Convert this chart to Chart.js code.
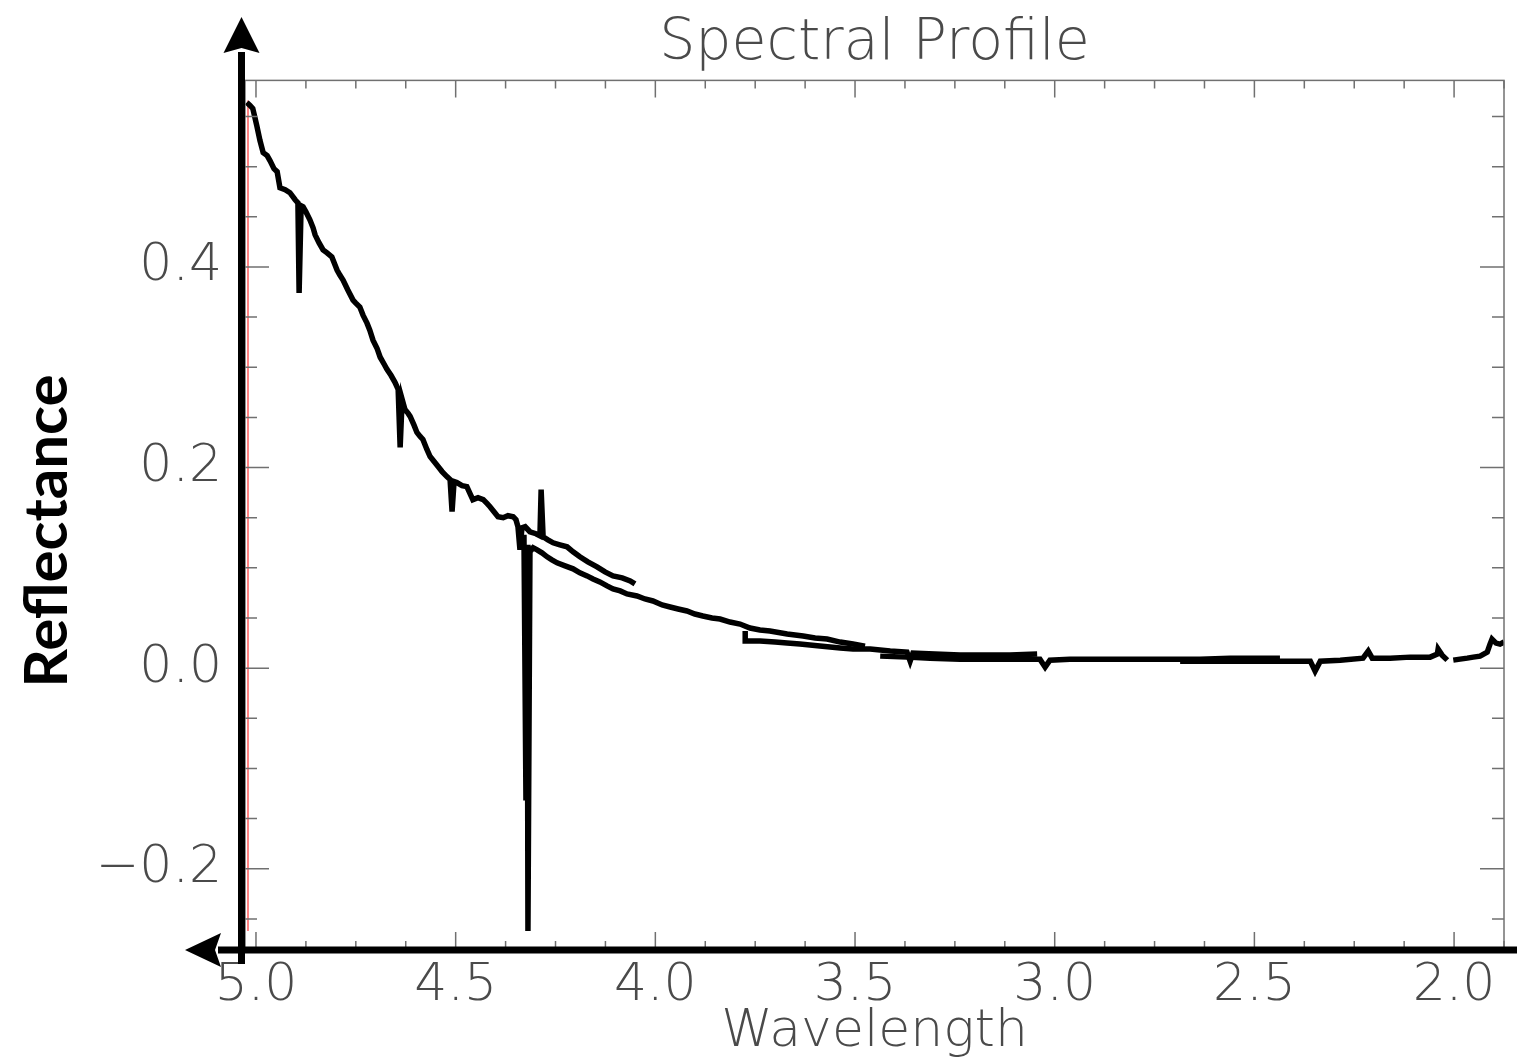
<!DOCTYPE html>
<html>
<head>
<meta charset="utf-8">
<title>Spectral Profile</title>
<script src="https://cdn.jsdelivr.net/npm/chart.js@4.4.1/dist/chart.umd.min.js"></script>
<style>
    html, body { margin: 0; padding: 0; background: #ffffff; }
    #wrap { width: 1517px; height: 1064px; }
</style>
</head>
<body>
<div id="wrap"><canvas id="spectrumChart" width="1517" height="1064"></canvas></div>
<script>
// Spectrum segments (wavelength, reflectance)
const seg1Wave = [5.023, 5.015, 5.008, 4.998, 4.990, 4.982, 4.972, 4.965, 4.955, 4.947, 4.940, 4.927, 4.915, 4.902, 4.895, 4.892, 4.887, 4.882, 4.875, 4.865, 4.857, 4.852, 4.842, 4.832, 4.822, 4.810, 4.802, 4.797, 4.790, 4.782, 4.770, 4.757, 4.750, 4.740, 4.732, 4.722, 4.715, 4.707, 4.697, 4.689, 4.679, 4.672, 4.662, 4.652, 4.644, 4.639, 4.634, 4.627, 4.619, 4.614, 4.604, 4.597, 4.589, 4.582, 4.572, 4.564, 4.554, 4.544, 4.534, 4.522, 4.514, 4.509, 4.504, 4.497, 4.484, 4.472, 4.464, 4.457, 4.444, 4.431, 4.421, 4.414, 4.404, 4.394, 4.381, 4.369, 4.356, 4.349, 4.344, 4.339, 4.334, 4.326, 4.314, 4.299, 4.289, 4.286, 4.281, 4.269, 4.256, 4.239, 4.221, 4.206, 4.189, 4.169, 4.146, 4.126, 4.106, 4.083, 4.063, 4.051];
const seg1Refl = [0.564, 0.561, 0.558, 0.541, 0.526, 0.514, 0.511, 0.506, 0.498, 0.495, 0.479, 0.477, 0.474, 0.467, 0.464, 0.374, 0.461, 0.460, 0.455, 0.447, 0.439, 0.432, 0.424, 0.417, 0.414, 0.410, 0.402, 0.397, 0.392, 0.387, 0.377, 0.367, 0.364, 0.360, 0.352, 0.344, 0.337, 0.327, 0.319, 0.310, 0.303, 0.298, 0.292, 0.285, 0.278, 0.220, 0.268, 0.258, 0.254, 0.251, 0.242, 0.235, 0.231, 0.228, 0.218, 0.211, 0.206, 0.201, 0.196, 0.191, 0.188, 0.156, 0.186, 0.185, 0.182, 0.181, 0.174, 0.168, 0.170, 0.168, 0.164, 0.161, 0.156, 0.151, 0.150, 0.152, 0.151, 0.148, 0.141, 0.118, 0.140, 0.141, 0.136, 0.134, 0.132, 0.178, 0.131, 0.128, 0.125, 0.123, 0.121, 0.116, 0.111, 0.106, 0.101, 0.096, 0.092, 0.090, 0.087, 0.084];

const seg2Wave = [4.329, 4.324, 4.321, 4.319, 4.314, 4.306, 4.296, 4.284, 4.271, 4.259, 4.246, 4.226, 4.206, 4.189, 4.171, 4.156, 4.139, 4.121, 4.106, 4.088, 4.071, 4.046, 4.026, 4.006, 3.983, 3.963, 3.943, 3.921, 3.901, 3.881, 3.858, 3.838, 3.813, 3.788, 3.763, 3.738, 3.713, 3.670, 3.630, 3.600, 3.570, 3.537, 3.505, 3.475];
const seg2Refl = [0.133, -0.132, 0.123, -0.262, 0.116, 0.120, 0.118, 0.115, 0.111, 0.108, 0.105, 0.102, 0.099, 0.095, 0.092, 0.089, 0.086, 0.082, 0.079, 0.077, 0.074, 0.072, 0.069, 0.067, 0.063, 0.061, 0.059, 0.057, 0.054, 0.052, 0.050, 0.049, 0.046, 0.044, 0.040, 0.038, 0.037, 0.034, 0.032, 0.030, 0.029, 0.026, 0.024, 0.022];

const seg3Wave = [3.775, 3.775, 3.738, 3.700, 3.670, 3.638, 3.588, 3.537, 3.505, 3.462, 3.412, 3.370, 3.362, 3.355, 3.300, 3.237, 3.174, 3.112, 3.044];
const seg3Refl = [0.037, 0.027, 0.027, 0.026, 0.025, 0.024, 0.022, 0.020, 0.019, 0.019, 0.017, 0.016, 0.007, 0.015, 0.014, 0.013, 0.013, 0.013, 0.014];

const seg4Wave = [3.437, 3.370, 3.312, 3.237, 3.174, 3.112, 3.037, 3.024, 3.012, 2.962, 2.904, 2.836, 2.761, 2.704, 2.636, 2.561, 2.498, 2.436];
const seg4Refl = [0.012, 0.011, 0.010, 0.009, 0.009, 0.009, 0.009, 0.001, 0.008, 0.009, 0.009, 0.009, 0.009, 0.009, 0.009, 0.010, 0.010, 0.010];

const seg5Wave = [2.686, 2.611, 2.536, 2.461, 2.411, 2.360, 2.348, 2.335, 2.285, 2.228, 2.215, 2.205, 2.160, 2.110, 2.060, 2.042, 2.040, 2.030, 2.017];
const seg5Refl = [0.007, 0.007, 0.007, 0.007, 0.007, 0.007, -0.003, 0.007, 0.008, 0.010, 0.017, 0.010, 0.010, 0.011, 0.011, 0.014, 0.019, 0.013, 0.008];

const seg6Wave = [2.002, 1.985, 1.967, 1.952, 1.935, 1.917, 1.910, 1.905, 1.895, 1.885, 1.875];
const seg6Refl = [0.008, 0.009, 0.010, 0.011, 0.012, 0.016, 0.024, 0.029, 0.025, 0.024, 0.026];

// red marker line near the left edge
const markerWave = [5.02, 5.02];
const markerRefl = [0.566, -0.262];

// axis ranges and tick labels
const xRange = [1.875, 5.0275];
const yRange = [-0.28, 0.586];
const xTicks = [5.0, 4.5, 4.0, 3.5, 3.0, 2.5, 2.0];
const yTicks = [-0.2, 0.0, 0.2, 0.4];

function toPoints(wave, refl) {
    return wave.map(function(w, i) { return { x: w, y: refl[i] }; });
}

const thinFont = "'DejaVu Sans'";
const textColor = '#4a4a4a';

// frame, inward ticks, the two arrow axes and the y title
const frameAxesPlugin = {
    id: 'frameAxes',
    afterDraw: function(chart) {
        const ctx = chart.ctx;
        const area = chart.chartArea;
        const xs = chart.scales.x;
        const ys = chart.scales.y;
        ctx.save();

        // grey frame
        ctx.strokeStyle = '#707070';
        ctx.lineWidth = 1.5;
        ctx.strokeRect(area.left, area.top, area.right - area.left, area.bottom - area.top);

        // x ticks every 0.125, long at 0.5
        ctx.beginPath();
        for (let i = 0; i <= 25; i++) {
            const v = 5.0 - i * 0.125;
            const px = xs.getPixelForValue(v);
            const len = (i % 4 === 0) ? 17 : 8;
            ctx.moveTo(px, area.bottom);
            ctx.lineTo(px, area.bottom - len);
            ctx.moveTo(px, area.top);
            ctx.lineTo(px, area.top + len);
        }
        // y ticks every 0.05, long at 0.2
        for (let j = -5; j <= 11; j++) {
            const v = j * 0.05;
            const py = ys.getPixelForValue(v);
            const len = (j % 4 === 0) ? 24 : 12;
            ctx.moveTo(area.left, py);
            ctx.lineTo(area.left + len, py);
            ctx.moveTo(area.right, py);
            ctx.lineTo(area.right - len, py);
        }
        ctx.stroke();

        // thick black axes with arrow heads
        const ax = area.left - 3.5;
        const ay = area.bottom + 1;
        ctx.fillStyle = '#000000';
        ctx.fillRect(ax - 3.5, 52, 7, ay + 14 - 52);
        ctx.beginPath();
        ctx.moveTo(ax, 17);
        ctx.lineTo(ax + 18, 53);
        ctx.lineTo(ax, 48);
        ctx.lineTo(ax - 18, 53);
        ctx.closePath();
        ctx.fill();

        ctx.fillRect(218, ay - 3.5, chart.width - 218, 7);
        ctx.beginPath();
        ctx.moveTo(185, ay);
        ctx.lineTo(221, ay - 17);
        ctx.lineTo(215, ay);
        ctx.lineTo(221, ay + 17);
        ctx.closePath();
        ctx.fill();

        // y axis title
        ctx.translate(48, 531);
        ctx.rotate(-Math.PI / 2);
        ctx.font = 'bold 60px Lato';
        ctx.textAlign = 'center';
        ctx.textBaseline = 'middle';
        ctx.fillStyle = '#000000';
        ctx.fillText('Reflectance', 0, 0);

        ctx.restore();
    }
};

const segments = [
    [seg1Wave, seg1Refl],
    [seg2Wave, seg2Refl],
    [seg3Wave, seg3Refl],
    [seg4Wave, seg4Refl],
    [seg5Wave, seg5Refl],
    [seg6Wave, seg6Refl]
];

const datasets = segments.map(function(s, i) {
    return {
        label: 'Segment ' + (i + 1),
        data: toPoints(s[0], s[1]),
        borderColor: '#000000',
        borderWidth: 5.5,
        borderJoinStyle: 'miter',
        pointRadius: 0,
        tension: 0,
        fill: false,
        order: 1
    };
});
datasets.push({
    label: 'Marker',
    data: toPoints(markerWave, markerRefl),
    borderColor: '#ff5a5a',
    borderWidth: 1.5,
    pointRadius: 0,
    fill: false,
    order: 2
});

new Chart(document.getElementById('spectrumChart').getContext('2d'), {
    type: 'line',
    data: { datasets: datasets },
    options: {
        responsive: false,
        animation: false,
        layout: {
            autoPadding: false,
            padding: { left: 0, right: 13, top: 0, bottom: 0 }
        },
        plugins: {
            legend: { display: false },
            tooltip: { enabled: false },
            title: {
                display: true,
                fullSize: false,
                text: 'Spectral Profile',
                color: textColor,
                font: { family: thinFont, size: 57, weight: 200 },
                padding: { top: 10, bottom: 2 }
            }
        },
        scales: {
            x: {
                type: 'linear',
                reverse: true,
                min: xRange[0],
                max: xRange[1],
                border: { display: false },
                grid: { display: false, drawTicks: false },
                afterBuildTicks: function(scale) {
                    scale.ticks = xTicks.map(function(v) { return { value: v }; });
                },
                afterFit: function(scale) { scale.height = 115; },
                ticks: {
                    autoSkip: false,
                    maxRotation: 0,
                    padding: 6,
                    color: textColor,
                    font: { family: thinFont, size: 52, weight: 200 },
                    callback: function(value) { return Number(value).toFixed(1); }
                },
                title: {
                    display: true,
                    text: 'Wavelength',
                    color: textColor,
                    font: { family: thinFont, size: 52, weight: 200 },
                    padding: { top: 0, bottom: 0 }
                }
            },
            y: {
                type: 'linear',
                min: yRange[0],
                max: yRange[1],
                border: { display: false },
                grid: { display: false, drawTicks: false },
                afterBuildTicks: function(scale) {
                    scale.ticks = yTicks.map(function(v) { return { value: v }; });
                },
                afterFit: function(scale) { scale.width = 245; },
                ticks: {
                    autoSkip: false,
                    padding: 23,
                    color: textColor,
                    font: { family: thinFont, size: 52, weight: 200 },
                    callback: function(value) {
                        const v = Number(value);
                        return v < 0 ? '\u2212' + Math.abs(v).toFixed(1) : v.toFixed(1);
                    }
                },
                title: { display: false }
            }
        }
    },
    plugins: [frameAxesPlugin]
});
</script>
</body>
</html>
